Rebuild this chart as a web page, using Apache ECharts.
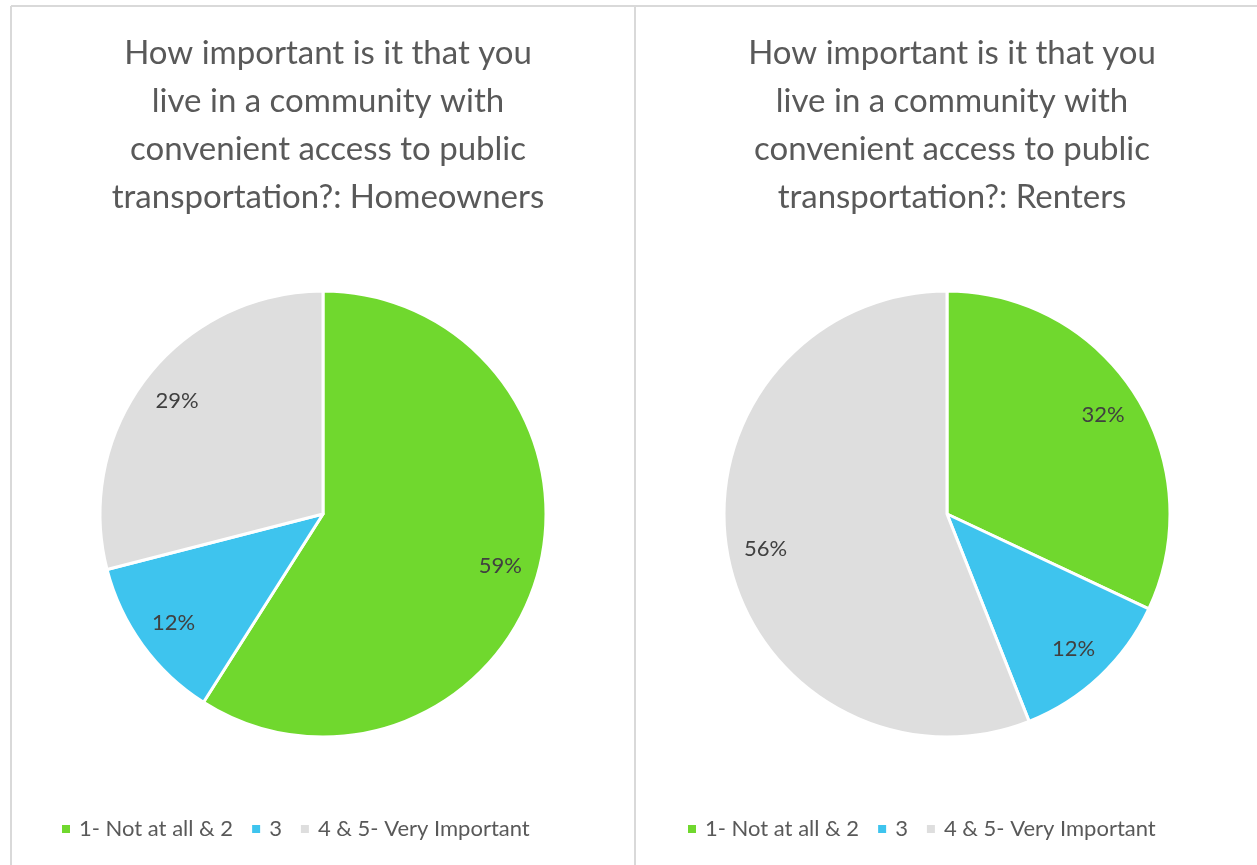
<!DOCTYPE html>
<html>
<head>
<meta charset="utf-8">
<script src="https://cdn.jsdelivr.net/npm/echarts@6/dist/echarts.min.js"></script>
<style>
html, body { margin: 0; padding: 0; background: #fff; }
#main { width: 1257px; height: 865px; }
</style>
</head>
<body>
<div id="main"></div>
<script>
// data
const categories = ['1- Not at all & 2', '3', '4 & 5- Very Important'];
const homeowners = [59, 12, 29];
const renters = [32, 12, 56];
const colors = ['#70d82e', '#3ec4ee', '#dedede'];
const titles = [
    'How important is it that you\nlive in a community with\nconvenient access to public\ntransportation?: Homeowners',
    'How important is it that you\nlive in a community with\nconvenient access to public\ntransportation?: Renters'
];

const font = 'Lato, "Open Sans", sans-serif';
const R = 223;
const CY = 514;

function toData(values) {
    return values.map((v, i) => ({ value: v, name: categories[i], itemStyle: { color: colors[i] } }));
}

// pie itself plus an invisible ring that only carries the labels further out
function pies(values, cx) {
    return [
        {
            type: 'pie',
            center: [cx, CY],
            radius: [0, R],
            startAngle: 90,
            clockwise: true,
            legendHoverLink: false,
            itemStyle: { borderColor: '#fff', borderWidth: 3 },
            label: { show: false },
            labelLine: { show: false },
            emphasis: { disabled: true },
            data: toData(values)
        },
        {
            type: 'pie',
            center: [cx, CY],
            radius: [R * 0.63, R],
            startAngle: 90,
            clockwise: true,
            silent: true,
            itemStyle: { color: 'rgba(0,0,0,0)', borderWidth: 0 },
            label: {
                show: true,
                position: 'inside',
                formatter: '{c}%',
                color: '#404040',
                fontSize: 22,
                fontFamily: font
            },
            labelLine: { show: false },
            emphasis: { disabled: true },
            data: values.map((v, i) => ({ value: v, name: categories[i] + ' ', itemStyle: { color: 'rgba(0,0,0,0)' } }))
        }
    ];
}

function legend(left) {
    return {
        data: categories,
        left: left,
        top: 818,
        padding: 0,
        icon: 'rect',
        itemWidth: 10,
        itemHeight: 10,
        itemGap: 17,
        selectedMode: false,
        textStyle: { color: '#595959', fontSize: 22, fontFamily: font, padding: [0, 0, 0, 3] }
    };
}

const titleStyle = { color: '#595959', fontSize: 33, fontWeight: 'normal', fontFamily: font, lineHeight: 48 };

const chart = echarts.init(document.getElementById('main'));

const option = {
    animation: false,
    title: [
        { text: titles[0], left: 323, top: 24, textAlign: 'center', textStyle: titleStyle },
        { text: titles[1], left: 947, top: 24, textAlign: 'center', textStyle: titleStyle }
    ],
    legend: [legend(60), legend(686)],
    graphic: [
        { type: 'line', shape: { x1: 11, y1: 6, x2: 1257, y2: 6 }, style: { stroke: '#d9d9d9', lineWidth: 2 } },
        { type: 'line', shape: { x1: 11, y1: 6, x2: 11, y2: 865 }, style: { stroke: '#d9d9d9', lineWidth: 2 } },
        { type: 'line', shape: { x1: 635, y1: 6, x2: 635, y2: 865 }, style: { stroke: '#d9d9d9', lineWidth: 2 } }
    ],
    series: pies(homeowners, 323).concat(pies(renters, 947))
};

chart.setOption(option);
window.addEventListener('resize', function () {
    chart.resize();
});
</script>
</body>
</html>
